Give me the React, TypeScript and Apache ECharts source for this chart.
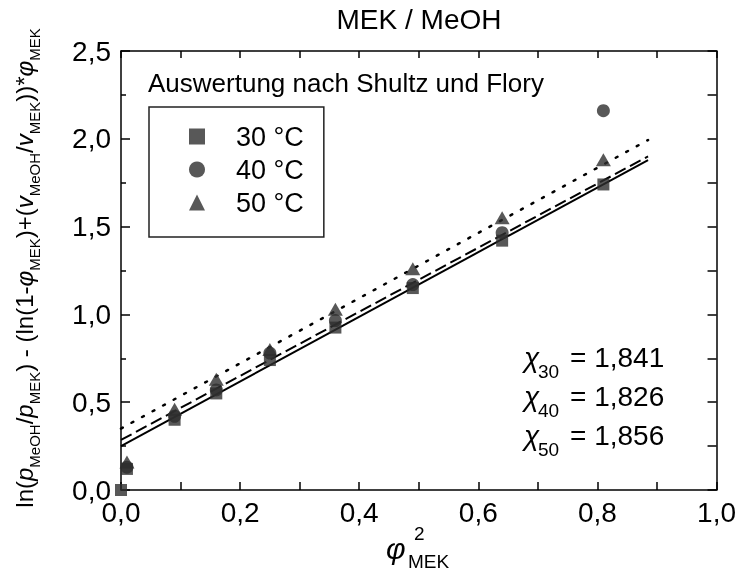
import React, { useEffect, useRef } from "react";
import * as echarts from "echarts";

const FONT = "Liberation Sans, Arial, sans-serif";

// φ²_MEK values (x)
const xVals = [0, 0.01, 0.09, 0.16, 0.25, 0.36, 0.49, 0.64, 0.81];
// y values per temperature
const y30 = [0, 0.12, 0.4, 0.55, 0.74, 0.925, 1.15, 1.42, 1.74];
const y40 = [null, 0.13, 0.42, 0.57, 0.78, 0.965, 1.17, 1.465, 2.16];
const y50 = [null, 0.16, 0.46, 0.63, 0.8, 1.03, 1.26, 1.55, 1.88];

const seriesNames = ["30 °C", "40 °C", "50 °C"];
const symbols = ["rect", "circle", "triangle"];

// fitted line end points [x, y]
const fit30 = [[0, 0.25], [0.885, 1.879]];
const fit40 = [[0, 0.285], [0.885, 1.9]];
const fit50 = [[0, 0.35], [0.885, 1.993]];

const chiTemps = ["30", "40", "50"];
const chiValues = ["1,841", "1,826", "1,856"];

const xTicks = [0, 0.2, 0.4, 0.6, 0.8, 1.0];
const yTicks = [0, 0.5, 1.0, 1.5, 2.0, 2.5];

const fmt = (v: number) => v.toFixed(1).replace(".", ",");

function pts(ys: (number | null)[]) {
  const out: number[][] = [];
  ys.forEach((y, i) => {
    if (y !== null) out.push([xVals[i], y]);
  });
  return out;
}

function txt(x: number, y: number, text: string, font: string, align = "left", extra: any = {}) {
  return {
    type: "text", x, y, ...extra,
    style: { text, font, fill: "#000", align, verticalAlign: "middle", textAlign: align, textVerticalAlign: "middle" },
  };
}

export default function App() {
  const ref = useRef<HTMLDivElement>(null);
  useEffect(() => {
    if (!ref.current) return;
    const chart = echarts.init(ref.current, undefined, { renderer: "svg" });
    const markerColor = "#2e2e2e";
    const axisCommon = {
      type: "value" as const,
      splitLine: { show: false },
      axisLine: { show: true, onZero: false, lineStyle: { color: "#000", width: 1.5 } },
    };
    const chiGraphics: any[] = [];
    const chiY = [357, 396, 435];
    chiTemps.forEach((t, i) => {
      chiGraphics.push(txt(524, chiY[i], "χ", `italic 28px ${FONT}`));
      chiGraphics.push(txt(538, chiY[i] + 14, t, `19px ${FONT}`));
      chiGraphics.push(txt(570, chiY[i], "= " + chiValues[i], `28px ${FONT}`));
    });

    const tokN = { fontSize: 24, fontFamily: FONT, lineHeight: 29, verticalAlign: "top", color: "#000" };
    const tokI = { ...tokN, fontStyle: "italic" };
    const tokS = { fontSize: 15, fontFamily: FONT, lineHeight: 29, verticalAlign: "bottom", color: "#000" };
    const yLabel =
      "{n|ln(}{i|p}{s|MeOH}{n|/}{i|p}{s|MEK}{n|) - (ln(1-}{i|φ}{s|MEK}{n|)+(}{i|v}{s|MeOH}{n|/}{i|v}{s|MEK}{n|))*}{i|φ}{s|MEK}";

    const option: any = {
      animation: false,
      grid: { left: 121, right: 21, top: 51, bottom: 82, containLabel: false },
      legend: {
        orient: "vertical",
        left: 149,
        top: 107,
        padding: [16, 20, 21, 40],
        itemGap: 6,
        itemWidth: 16,
        itemHeight: 16,
        borderColor: "#222",
        borderWidth: 1.5,
        borderRadius: 0,
        textStyle: { fontSize: 27, fontFamily: FONT, color: "#000", padding: [0, 0, 0, 26] },
        data: seriesNames.map((n, i) => ({ name: n, icon: symbols[i] })),
      },
      xAxis: [
        {
          ...axisCommon,
          position: "bottom",
          min: 0, max: 1, interval: 0.2,
          axisTick: { show: true, inside: true, length: 8, lineStyle: { width: 1.5, color: "#000" } },
          minorTick: { show: true, splitNumber: 2, length: 8, lineStyle: { width: 1.5, color: "#000" } },
          axisLabel: {
            fontSize: 28, fontFamily: FONT, color: "#000", margin: 8,
            formatter: (v: number) => (xTicks.some((t) => Math.abs(t - v) < 1e-6) ? fmt(v) : ""),
          },
        },
        {
          ...axisCommon,
          position: "top",
          min: 0, max: 1, interval: 0.2,
          axisTick: { show: true, inside: true, length: 7, lineStyle: { width: 1.5, color: "#000" } },
          minorTick: { show: true, splitNumber: 2, length: 7, lineStyle: { width: 1.5, color: "#000" } },
          axisLabel: { show: false },
        },
      ],
      yAxis: [
        {
          ...axisCommon,
          position: "left",
          min: 0, max: 2.5, interval: 0.5,
          axisTick: { show: true, inside: true, length: 9, lineStyle: { width: 1.5, color: "#000" } },
          minorTick: { show: true, splitNumber: 2, length: 5, lineStyle: { width: 1.5, color: "#000" } },
          axisLabel: {
            fontSize: 28, fontFamily: FONT, color: "#000", margin: 10,
            formatter: (v: number) => (yTicks.some((t) => Math.abs(t - v) < 1e-6) ? fmt(v) : ""),
          },
        },
        {
          ...axisCommon,
          position: "right",
          min: 0, max: 2.5, interval: 0.5,
          axisTick: { show: true, inside: true, length: 9, lineStyle: { width: 1.5, color: "#000" } },
          minorTick: { show: true, splitNumber: 2, length: 9, lineStyle: { width: 1.5, color: "#000" } },
          axisLabel: { show: false },
        },
      ],
      graphic: [
        txt(419, 19, "MEK / MeOH", `28px ${FONT}`, "center"),
        txt(148, 83, "Auswertung nach Shultz und Flory", `26px ${FONT}`),
        txt(386, 548, "φ", `italic 30px ${FONT}`),
        txt(414, 533, "2", `19px ${FONT}`),
        txt(408, 561, "MEK", `19px ${FONT}`),
        {
          type: "text", x: 27, y: 268, rotation: Math.PI / 2,
          style: {
            text: yLabel,
            rich: { n: tokN, i: tokI, s: tokS },
            fill: "#000",
            align: "center", verticalAlign: "middle", textAlign: "center", textVerticalAlign: "middle",
          },
        },
        ...chiGraphics,
      ],
      series: [
        { type: "line", data: fit30, showSymbol: false, symbol: "none", lineStyle: { color: "#000", width: 2, type: "solid" }, z: 1, silent: true },
        { type: "line", data: fit40, showSymbol: false, symbol: "none", lineStyle: { color: "#000", width: 2, type: [12, 5] }, z: 1, silent: true },
        { type: "line", data: fit50, showSymbol: false, symbol: "none", lineStyle: { color: "#000", width: 2.5, type: [2, 10], cap: "round" }, z: 1, silent: true },
        { name: seriesNames[0], type: "scatter", data: pts(y30), symbol: "rect", symbolSize: 12, itemStyle: { color: markerColor }, z: 3 },
        { name: seriesNames[1], type: "scatter", data: pts(y40), symbol: "circle", symbolSize: 13, itemStyle: { color: markerColor }, z: 3 },
        { name: seriesNames[2], type: "scatter", data: pts(y50), symbol: "triangle", symbolSize: [15, 13], itemStyle: { color: markerColor }, z: 3 },
      ],
    };
    chart.setOption(option);
    return () => chart.dispose();
  }, []);
  return <div ref={ref} style={{ position: "fixed", left: 0, top: 0, width: 739, height: 572 }} />;
}
